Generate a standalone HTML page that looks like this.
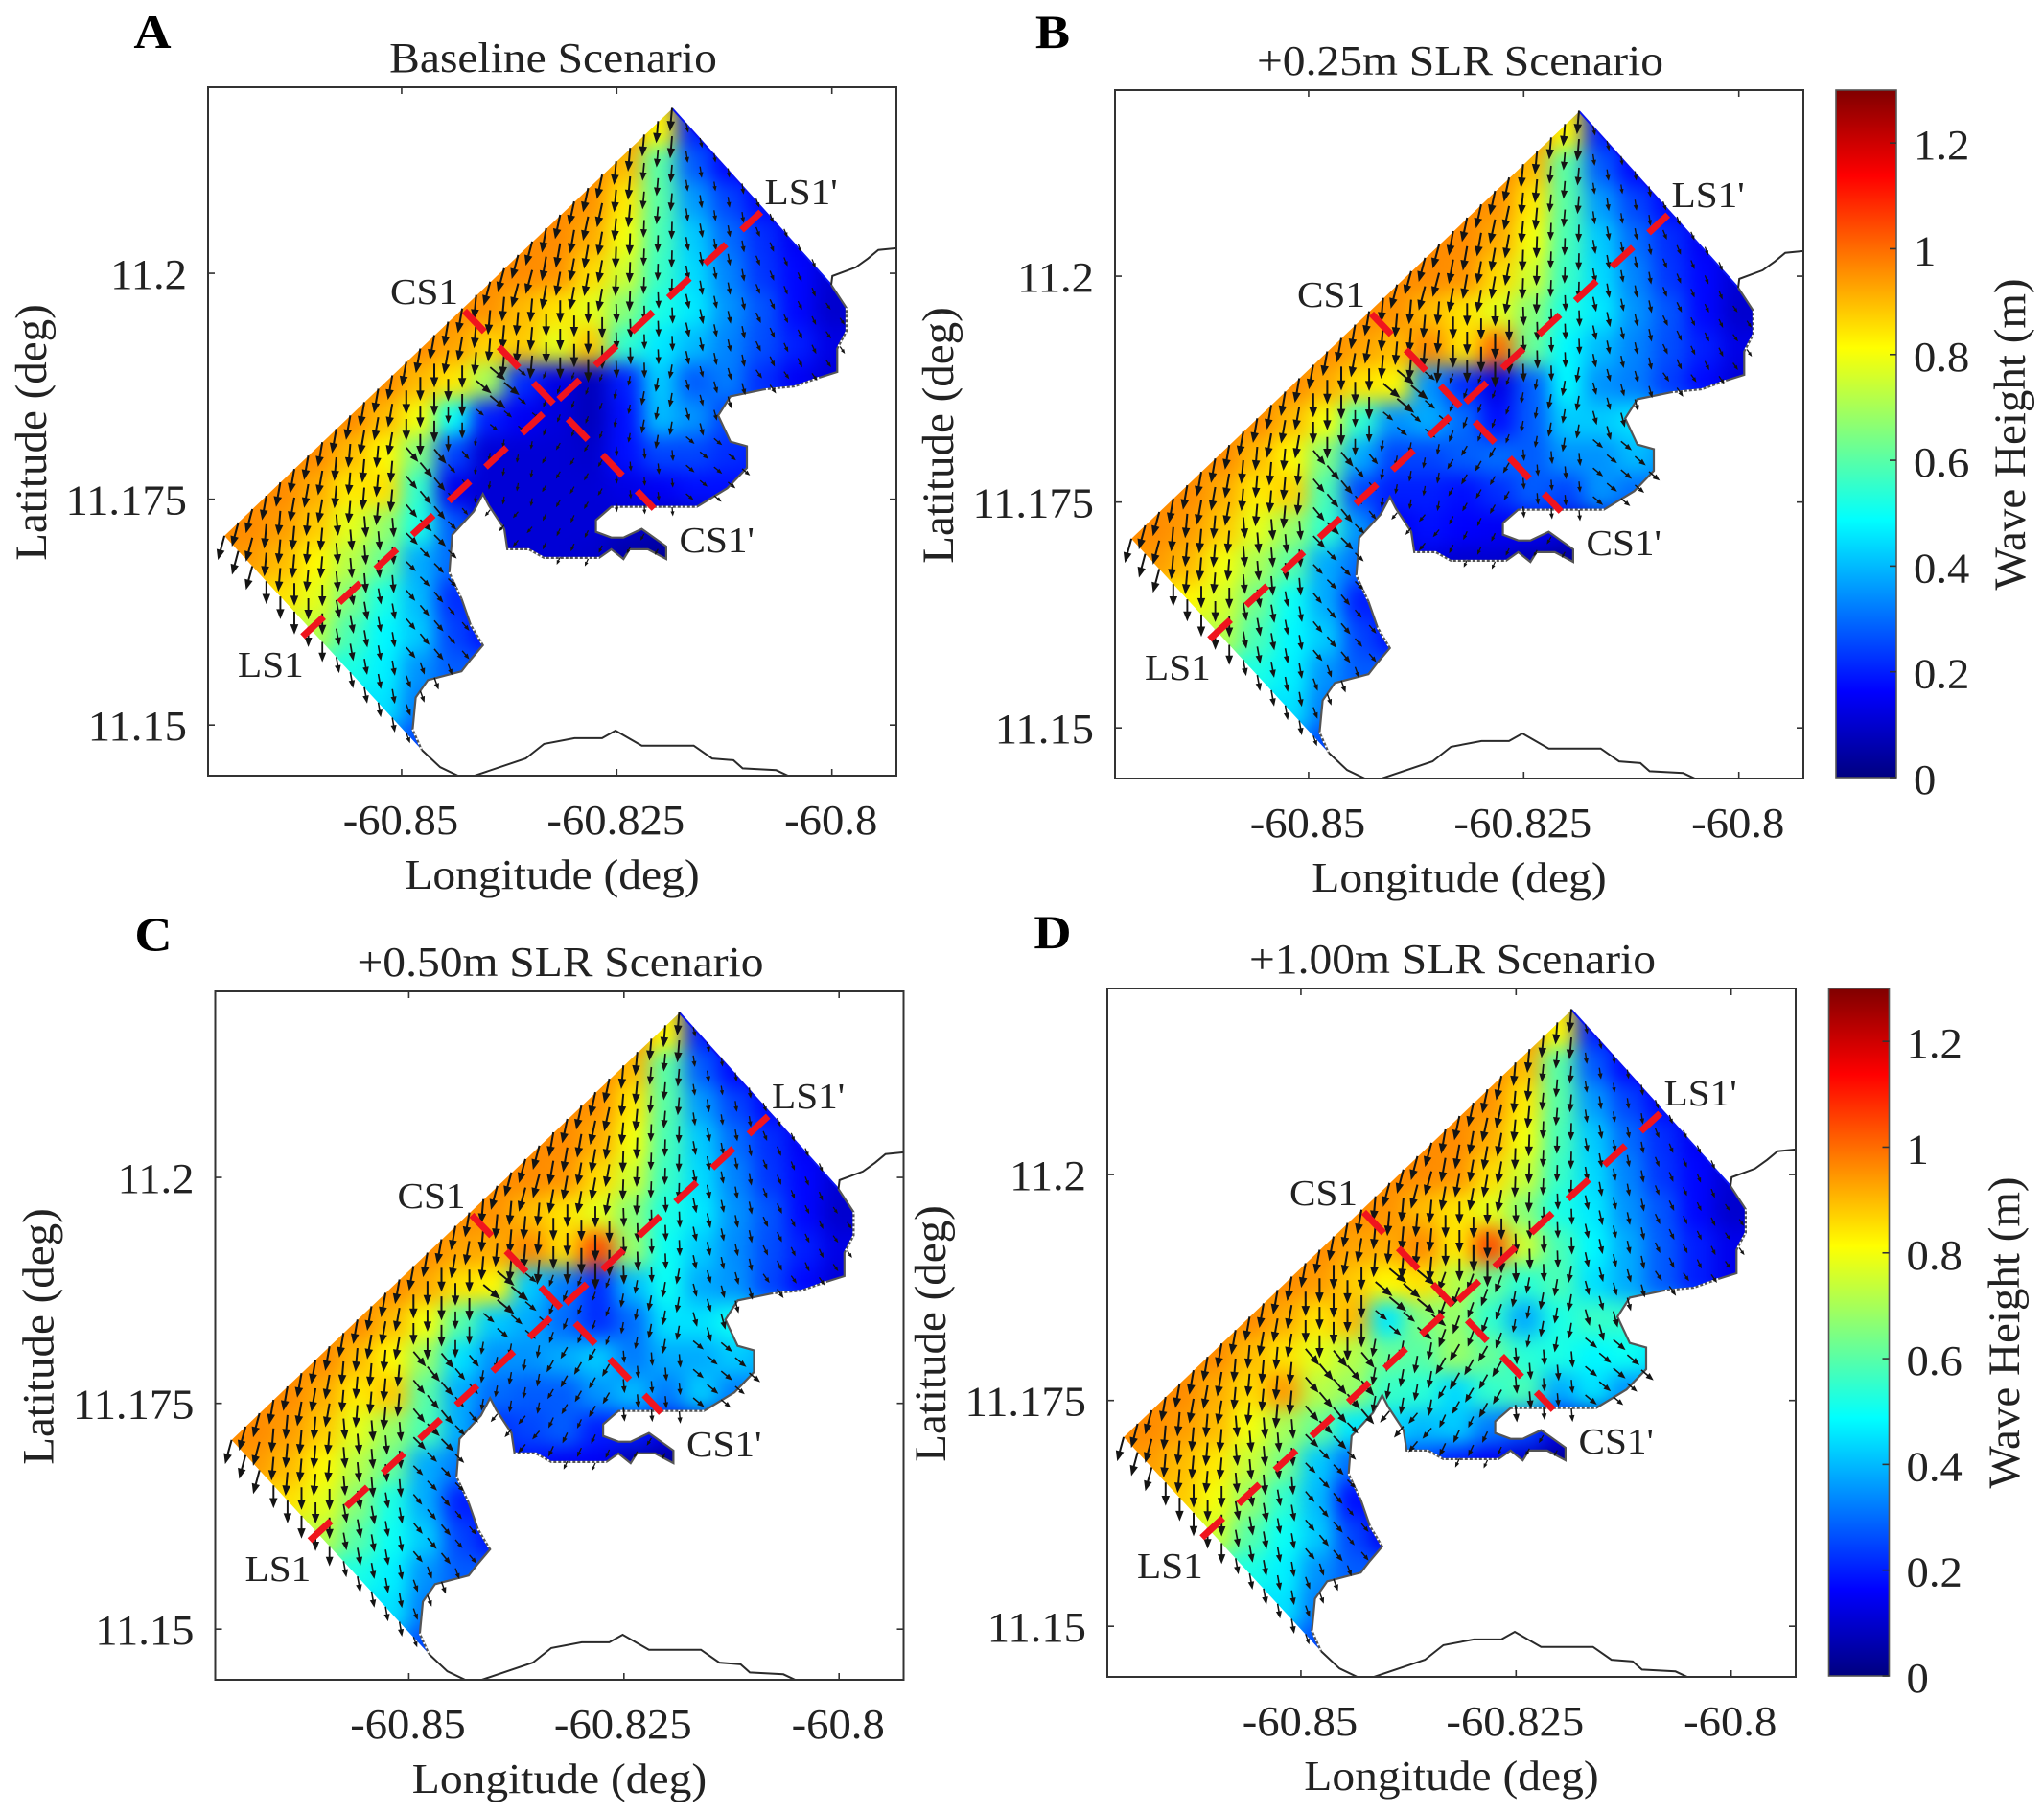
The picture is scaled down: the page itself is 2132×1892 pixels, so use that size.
<!DOCTYPE html>
<html lang="en">
<head>
<meta charset="utf-8">
<title>Wave height under sea level rise scenarios</title>
<style>
html,body{margin:0;padding:0;background:#fff;}
svg{display:block;}
text{font-family:"Liberation Serif",serif;fill:#222;}
.t{font-size:44px;}
.r{font-size:47px;}
.p{font-size:50px;font-weight:bold;fill:#000;}
</style>
</head>
<body>
<svg id="figure" width="2132" height="1892" viewBox="0 0 2132 1892" xmlns="http://www.w3.org/2000/svg">
  <rect width="2132" height="1892" fill="#fff"/>
  <defs>
    <filter id="soft" filterUnits="userSpaceOnUse" x="-80" y="-80" width="880" height="880" color-interpolation-filters="sRGB">
      <feGaussianBlur stdDeviation="10"/>
    </filter>
    <linearGradient id="jetGrad" x1="0" y1="1" x2="0" y2="0">
      <stop offset="0" stop-color="#000080"/>
      <stop offset="0.125" stop-color="#0000ff"/>
      <stop offset="0.375" stop-color="#00ffff"/>
      <stop offset="0.625" stop-color="#ffff00"/>
      <stop offset="0.875" stop-color="#ff0000"/>
      <stop offset="1" stop-color="#800000"/>
    </linearGradient>
    <clipPath id="frameClip"><rect x="0" y="0" width="718" height="718"/></clipPath>
    <clipPath id="domainClip"><polygon id="domainClipPoly" points="0,0"/></clipPath>
  </defs>

  <text class="p" x="0" y="0" transform="translate(159,50) scale(1.085,1)" text-anchor="middle">A</text>
  <text class="p" x="0" y="0" transform="translate(1098,50) scale(1.085,1)" text-anchor="middle">B</text>
  <text class="p" x="0" y="0" transform="translate(160,991) scale(1.085,1)" text-anchor="middle">C</text>
  <text class="p" x="0" y="0" transform="translate(1098,989) scale(1.085,1)" text-anchor="middle">D</text>

  <g id="panel-a" transform="translate(217,91)">
    <text class="t" transform="translate(360,-16) scale(1.08,1)" text-anchor="middle">Baseline Scenario</text>
    <text class="t" transform="translate(359,836) scale(1.08,1)" text-anchor="middle">Longitude (deg)</text>
    <text class="r" transform="translate(-169,360) rotate(-90)" text-anchor="middle">Latitude (deg)</text>
  </g>
  <g id="panel-b" transform="translate(1163,94)">
    <text class="t" transform="translate(360,-16) scale(1.08,1)" text-anchor="middle">+0.25m SLR Scenario</text>
    <text class="t" transform="translate(359,836) scale(1.08,1)" text-anchor="middle">Longitude (deg)</text>
    <text class="r" transform="translate(-169,360) rotate(-90)" text-anchor="middle">Latitude (deg)</text>
  </g>
  <g id="panel-c" transform="translate(224.5,1034)">
    <text class="t" transform="translate(360,-16) scale(1.08,1)" text-anchor="middle">+0.50m SLR Scenario</text>
    <text class="t" transform="translate(359,836) scale(1.08,1)" text-anchor="middle">Longitude (deg)</text>
    <text class="r" transform="translate(-169,360) rotate(-90)" text-anchor="middle">Latitude (deg)</text>
  </g>
  <g id="panel-d" transform="translate(1155,1031)">
    <text class="t" transform="translate(360,-16) scale(1.08,1)" text-anchor="middle">+1.00m SLR Scenario</text>
    <text class="t" transform="translate(359,836) scale(1.08,1)" text-anchor="middle">Longitude (deg)</text>
    <text class="r" transform="translate(-169,360) rotate(-90)" text-anchor="middle">Latitude (deg)</text>
  </g>

  <g id="colorbar-top" transform="translate(1915,94)">
    <text class="r" transform="translate(197,359) rotate(-90)" text-anchor="middle">Wave Height (m)</text>
  </g>
  <g id="colorbar-bottom" transform="translate(1907.5,1031)">
    <text class="r" transform="translate(198.5,359) rotate(-90)" text-anchor="middle">Wave Height (m)</text>
  </g>
</svg>

<script>
/* ---------- axis ticks ---------- */
const xTicks = [-60.85, -60.825, -60.8];
const xTickLabels = ["-60.85", "-60.825", "-60.8"];
const yTicks = [11.15, 11.175, 11.2];
const yTickLabels = ["11.15", "11.175", "11.2"];
const colorTicks = [0, 0.2, 0.4, 0.6, 0.8, 1, 1.2];
const colorTickLabels = ["0", "0.2", "0.4", "0.6", "0.8", "1", "1.2"];

/* ---------- geography (degrees) ---------- */
const domainLon = [-60.81854,-60.80008,-60.7983,-60.7983,-60.79937,-60.79937,-60.8015,-60.80434,-60.80789,-60.81179,-60.81321,-60.81179,-60.80988,-60.80988,-60.81215,-60.8157,-60.82564,-60.82742,-60.82742,-60.82564,-60.82422,-60.82209,-60.81925,-60.81925,-60.82138,-60.82351,-60.82422,-60.82564,-60.82706,-60.83345,-60.83523,-60.83772,-60.83807,-60.83985,-60.84056,-60.84162,-60.84411,-60.84446,-60.84304,-60.84198,-60.84056,-60.84198,-60.84304,-60.84695,-60.84837,-60.84872,-60.84766,-60.8706];
const domainLat = [11.21823,11.19873,11.19616,11.19359,11.19166,11.18908,11.18844,11.18748,11.18715,11.18638,11.18426,11.18136,11.18085,11.17847,11.17622,11.17416,11.17416,11.17268,11.17139,11.17075,11.17075,11.17171,11.16978,11.16837,11.16946,11.16946,11.16837,11.16946,11.1685,11.1685,11.16946,11.16946,11.17171,11.17429,11.17557,11.17364,11.17107,11.16689,11.16399,11.1611,11.15884,11.15724,11.15595,11.15498,11.15305,11.14952,11.14726,11.17094];
const southLandLon = [-60.84766,-60.84553,-60.8434,-60.8425,-60.84162,-60.83559,-60.83345,-60.8299,-60.82671,-60.82515,-60.82209,-60.81605,-60.81392,-60.81144,-60.81037,-60.80647,-60.80505];
const southLandLat = [11.14726,11.14533,11.14437,11.1442,11.14437,11.1463,11.14791,11.14855,11.14855,11.14939,11.14772,11.14772,11.1463,11.14611,11.14521,11.14501,11.14437];
const northLandLon = [-60.80008,-60.79994,-60.79723,-60.79581,-60.79461,-60.79248];
const northLandLat = [11.19873,11.1997,11.20066,11.20163,11.20259,11.20279];
const transectLS1Lon = [-60.86151,-60.80824];
const transectLS1Lat = [11.15981,11.20678];
const transectCS1Lon = [-60.84269,-60.82067];
const transectCS1Lat = [11.19584,11.17396];

/* ---------- wave height samples (cm) on this lon/lat lattice ---------- */
const cellLon = [-60.872,-60.868,-60.864,-60.86,-60.856,-60.852,-60.848,-60.844,-60.84,-60.836,-60.832,-60.828,-60.824,-60.82,-60.816,-60.812,-60.808,-60.804,-60.8,-60.796];
const cellLat = [11.22,11.216,11.212,11.208,11.204,11.2,11.196,11.192,11.188,11.184,11.18,11.176,11.172,11.168,11.164,11.16,11.156,11.152,11.148,11.144];

const offshoreRows = [
[96,96,96,96,96,96,96,96,96,96,96,96,96,90,20,20,20,20,20,20],
[96,96,96,96,96,96,96,96,96,96,96,96,96,82,20,18,18,18,18,18],
[96,96,96,96,96,96,96,96,96,96,96,96,90,60,28,17,16,16,16,16],
[96,96,96,96,96,96,96,96,96,96,96,95,84,60,36,25,17,15,15,15],
[96,96,96,96,96,96,96,96,96,96,96,92,80,58,42,30,22,15,15,15],
[96,96,96,96,96,96,96,96,96,96,95,86,75,56,44,33,23,17,11,11],
[96,96,96,96,96,96,96,96,95,90,85,78,66,52,46,35,27,17,10,10]
];
const southRows = [
[55,55,55,55,52,47,35,28,28,28,28,28,28,28,28,28,28,28,28,28],
[45,45,45,45,45,45,32,28,28,28,28,28,28,28,28,28,28,28,28,28],
[35,35,35,35,35,35,25,25,25,25,25,25,25,25,25,25,25,25,25,25],
[25,25,25,25,25,25,25,25,25,25,25,25,25,25,25,25,25,25,25,25]
];
const baselineRows = [
[96,96,96,96,96,96,96,93,87,88,78,88,55,46,40,33,26,20,13,13],
[96,96,96,96,96,96,90,84,70,22,13,8,20,42,28,32,22,15,11,11],
[96,96,96,96,96,90,80,50,20,15,12,8,18,40,35,25,25,25,25,25],
[96,96,96,96,90,82,65,25,11,11,11,10,18,25,25,22,20,20,20,20],
[96,96,96,92,84,85,55,14,11,11,11,11,13,15,18,18,18,18,18,18],
[96,96,94,88,78,68,52,28,11,11,11,11,9,7,5,5,5,5,5,5],
[94,94,90,82,72,62,38,30,11,11,11,10,5,3,3,3,3,3,3,3],
[85,85,85,78,65,52,40,22,22,8,8,8,8,8,8,8,8,8,8,8],
[72,72,72,72,58,48,42,25,18,18,18,18,18,18,18,18,18,18,18,18]
];
const slr025Rows = [
[96,96,96,96,96,96,96,93,90,96,85,100,62,48,40,33,26,20,13,13],
[96,96,96,96,96,96,92,85,82,35,22,13,28,48,35,32,24,17,11,11],
[96,96,96,96,96,90,80,55,35,38,30,18,28,42,42,45,40,40,40,40],
[96,96,96,96,90,82,65,38,25,25,28,30,28,35,35,40,35,35,35,35],
[96,96,96,92,84,87,58,25,20,20,18,22,28,25,35,30,30,30,30,30],
[96,96,94,88,78,68,55,35,15,18,16,15,15,12,10,10,10,10,10,10],
[94,94,90,80,70,60,38,30,14,12,10,10,6,3,3,3,3,3,3,3],
[82,82,82,76,63,50,38,20,20,10,10,10,10,10,10,10,10,10,10,10],
[72,72,72,72,58,48,42,25,18,18,18,18,18,18,18,18,18,18,18,18]
];
const slr050Rows = [
[96,96,96,96,96,96,96,93,92,96,86,104,68,50,42,34,26,20,13,13],
[96,96,96,96,96,96,92,85,82,42,32,22,40,50,38,35,25,17,11,11],
[96,96,96,96,96,90,80,60,42,38,30,22,30,45,45,50,45,45,45,45],
[96,96,96,96,90,82,68,45,35,35,38,42,32,38,38,42,38,38,38,38],
[96,96,96,92,84,88,60,38,30,28,28,35,40,32,42,32,32,32,32,32],
[96,96,94,88,78,68,58,38,22,25,28,20,20,14,10,10,10,10,10,10],
[94,94,90,82,72,62,38,32,20,18,15,15,6,3,3,3,3,3,3,3],
[85,85,85,78,66,52,38,20,20,10,10,10,10,10,10,10,10,10,10,10],
[72,72,72,72,60,50,42,25,18,18,18,18,18,18,18,18,18,18,18,18]
];
const slr100Rows = [
[96,96,96,96,96,96,96,93,92,96,84,104,75,58,48,38,28,20,14,14],
[96,96,96,96,96,96,94,88,82,85,72,62,54,58,45,38,28,20,14,14],
[96,96,96,96,96,92,85,90,46,65,68,55,38,52,56,55,50,50,50,50],
[96,96,96,96,90,85,78,72,62,60,68,62,54,52,48,50,45,45,45,45],
[96,96,96,92,86,94,72,68,56,54,44,55,58,38,45,35,35,35,35,35],
[96,96,94,90,80,70,62,46,44,40,42,32,26,15,8,8,8,8,8,8],
[94,94,90,84,74,64,42,30,30,25,20,15,10,3,3,3,3,3,3,3],
[88,88,88,80,68,55,40,18,18,10,10,10,10,10,10,10,10,10,10,10],
[75,75,75,75,60,50,42,25,15,15,15,15,15,15,15,15,15,15,15,15]
];

/* ---------- wave direction samples (compass bearing, degrees) ---------- */
const bearingLon = [-60.87,-60.862,-60.854,-60.846,-60.838,-60.83,-60.822,-60.814,-60.806,-60.798];
const bearingLat = [11.218,11.21,11.202,11.194,11.186,11.178,11.17,11.162,11.154,11.146];
const bearingRows = [
[190,190,190,190,190,190,185,168,160,155],
[195,195,195,195,195,192,185,172,160,155],
[195,195,195,195,195,190,182,170,158,150],
[195,195,195,190,185,180,178,168,155,145],
[195,195,190,180,130,200,190,165,145,140],
[190,190,185,140,190,210,175,130,125,125],
[195,185,175,135,220,205,210,210,210,210],
[180,180,170,140,130,130,130,130,130,130],
[175,175,170,160,150,150,150,150,150,150],
[175,175,170,160,150,150,150,150,150,150]
];

/* ---------- axes ---------- */
const SVGNS = "http://www.w3.org/2000/svg";
const lonMin = -60.8725, lonMax = -60.7925, latMax = 11.2206, latMin = 11.1444, axisSize = 718;
function xScale(lon){ return (lon - lonMin) / (lonMax - lonMin) * axisSize; }
function yScale(lat){ return (latMax - lat) / (latMax - latMin) * axisSize; }
function colorY(v){ return axisSize - v / 1.3 * 717; }
function clamp01(v){ return Math.max(0, Math.min(1, v)); }
function jet(metres){
  const t = clamp01(metres / 1.3);
  const r = clamp01(Math.min(4*t - 1.5, -4*t + 4.5));
  const g = clamp01(Math.min(4*t - 0.5, -4*t + 3.5));
  const b = clamp01(Math.min(4*t + 0.5, -4*t + 2.5));
  return "rgb(" + Math.round(r*255) + "," + Math.round(g*255) + "," + Math.round(b*255) + ")";
}
function pointsFrom(lons, lats){
  return lons.map(function(lon, i){ return xScale(lon).toFixed(1) + "," + yScale(lats[i]).toFixed(1); }).join(" ");
}
function nearestIndex(list, v){
  let best = 0;
  for (let i = 1; i < list.length; i++) { if (Math.abs(list[i] - v) < Math.abs(list[best] - v)) best = i; }
  return best;
}
function inDomain(lon, lat){
  let inside = false;
  for (let i = 0, j = domainLon.length - 1; i < domainLon.length; j = i++) {
    const crosses = (domainLat[i] > lat) !== (domainLat[j] > lat);
    if (crosses && lon < (domainLon[j] - domainLon[i]) * (lat - domainLat[i]) / (domainLat[j] - domainLat[i]) + domainLon[i]) inside = !inside;
  }
  return inside;
}
function make(tag, parent){
  const el = document.createElementNS(SVGNS, tag);
  parent.appendChild(el);
  return el;
}
document.getElementById("domainClipPoly").setAttribute("points", pointsFrom(domainLon, domainLat));

/* arrow mesh steps, degrees */
const meshOriginLon = -60.8706, meshOriginLat = 11.17094;
const meshAlongLon = 0.001626, meshAlongLat = 0.001481;
const meshAcrossLon = 0.001626, meshAcrossLat = -0.001677;

/* stretches of shoreline carrying the white dotted mesh edge: first and last domain vertex */
const dottedShoreFrom = [2, 6, 15, 28, 37, 39, 45];
const dottedShoreTo = [4, 8, 16, 31, 38, 40, 46];

function drawPanel(panelId, rows){
  const panel = document.getElementById(panelId);

  /* heat field */
  const clipGroup = make("g", panel);
  clipGroup.setAttribute("clip-path", "url(#domainClip)");
  
  
  const blurGroup = make("g", clipGroup);
  blurGroup.setAttribute("filter", "url(#soft)");
  const cellW = Math.abs(xScale(cellLon[1]) - xScale(cellLon[0]));
  const cellH = Math.abs(yScale(cellLat[1]) - yScale(cellLat[0]));
  rows.forEach(function(row, r){
    row.forEach(function(cm, c){
      const cell = make("rect", blurGroup);
      
      
      cell.setAttribute("x", (xScale(cellLon[c]) - cellW/2 - 0.5).toFixed(1));
      cell.setAttribute("y", (yScale(cellLat[r]) - cellH/2 - 0.5).toFixed(1));
      cell.setAttribute("width", (cellW + 1).toFixed(1));
      cell.setAttribute("height", (cellH + 1).toFixed(1));
      cell.setAttribute("fill", jet(cm / 100));
    });
  });

  /* open north-east boundary */
  const neEdge = make("polyline", panel);
  
  
  neEdge.setAttribute("points", pointsFrom(domainLon.slice(0, 2), domainLat.slice(0, 2)));
  neEdge.setAttribute("fill", "none");
  neEdge.setAttribute("stroke", "#0a14f0");
  neEdge.setAttribute("stroke-width", "2");

  /* shoreline */
  const shore = make("polyline", panel);
  
  
  shore.setAttribute("points", pointsFrom(domainLon.slice(1, 47), domainLat.slice(1, 47)));
  shore.setAttribute("fill", "none");
  shore.setAttribute("stroke", "#555");
  shore.setAttribute("stroke-width", "2.2");

  dottedShoreFrom.forEach(function(from, s){
    const dots = make("polyline", panel);
    
    
    dots.setAttribute("points", pointsFrom(domainLon.slice(from, dottedShoreTo[s] + 1), domainLat.slice(from, dottedShoreTo[s] + 1)));
    dots.setAttribute("fill", "none");
    dots.setAttribute("stroke", "#fff");
    dots.setAttribute("stroke-width", "2");
    dots.setAttribute("stroke-dasharray", "2 3");
  });

  const landGroup = make("g", panel);
  landGroup.setAttribute("clip-path", "url(#frameClip)");
  
  
  const southLand = make("polyline", landGroup);
  
  
  southLand.setAttribute("points", pointsFrom(southLandLon, southLandLat));
  southLand.setAttribute("fill", "none");
  southLand.setAttribute("stroke", "#2a2a2a");
  southLand.setAttribute("stroke-width", "2");
  const northLand = make("polyline", landGroup);
  
  
  northLand.setAttribute("points", pointsFrom(northLandLon, northLandLat));
  northLand.setAttribute("fill", "none");
  northLand.setAttribute("stroke", "#2a2a2a");
  northLand.setAttribute("stroke-width", "2");

  /* wave arrows: tails on the mesh, length from height, heading from bearing table */
  const arrowGroup = make("g", panel);
  
  
  for (let i = 0; i <= 32; i++) {
    for (let j = 0; j <= 15; j++) {
      const lon = meshOriginLon + i*meshAlongLon + j*meshAcrossLon;
      const lat = meshOriginLat + i*meshAlongLat + j*meshAcrossLat;
      const probeLon = lon + (-60.83 - lon) * 0.012;
      const probeLat = lat + (11.19 - lat) * 0.012;
      if (!inDomain(probeLon, probeLat)) continue;
      const cm = rows[nearestIndex(cellLat, lat)][nearestIndex(cellLon, lon)];
      const bearing = bearingRows[nearestIndex(bearingLat, lat)][nearestIndex(bearingLon, lon)];
      const length = 5 + 19 * cm / 100;
      const headLen = Math.min(7, length * 0.35);
      const headHalf = Math.min(2.8, length * 0.14);
      const rad = bearing * Math.PI / 180;
      const ux = Math.sin(rad), uy = -Math.cos(rad);
      const x0 = xScale(lon), y0 = yScale(lat);
      const x1 = x0 + ux*length, y1 = y0 + uy*length;
      const bx = x1 - ux*headLen, by = y1 - uy*headLen;
      const d = "M" + x0.toFixed(1) + " " + y0.toFixed(1) + "L" + bx.toFixed(1) + " " + by.toFixed(1) +
        "M" + (bx - uy*headHalf).toFixed(1) + " " + (by + ux*headHalf).toFixed(1) + "L" + x1.toFixed(1) + " " + y1.toFixed(1) +
        "L" + (bx + uy*headHalf).toFixed(1) + " " + (by - ux*headHalf).toFixed(1) + "Z";
      const arrow = make("path", arrowGroup);
      
      
      arrow.setAttribute("d", d);
      arrow.setAttribute("fill", "#141414");
      arrow.setAttribute("stroke", "#141414");
      arrow.setAttribute("stroke-width", (1.1 + 1.0 * cm / 100).toFixed(2));
    }
  }

  /* transects */
  const ls1 = make("polyline", panel);
  
  
  ls1.setAttribute("points", pointsFrom(transectLS1Lon, transectLS1Lat));
  ls1.setAttribute("stroke", "#f0141e");
  ls1.setAttribute("stroke-width", "7");
  ls1.setAttribute("stroke-dasharray", "30 22");
  const cs1 = make("polyline", panel);
  
  
  cs1.setAttribute("points", pointsFrom(transectCS1Lon, transectCS1Lat));
  cs1.setAttribute("stroke", "#f0141e");
  cs1.setAttribute("stroke-width", "7");
  cs1.setAttribute("stroke-dasharray", "30 22");

  /* transect labels */
  [["LS1",-60.86521,11.15531],["LS1'",-60.80357,11.20765],["CS1",-60.84738,11.19661],["CS1'",-60.81337,11.16911]].forEach(function(item){
    const label = make("text", panel);
    
    
    label.setAttribute("text-anchor", "middle");
    label.setAttribute("font-size", "38");
    label.setAttribute("transform", "translate(" + xScale(item[1]).toFixed(1) + "," + yScale(item[2]).toFixed(1) + ") scale(1.085,1)");
    label.textContent = item[0];
  });

  /* frame */
  const frame = make("rect", panel);
  
  
  frame.setAttribute("width", axisSize);
  frame.setAttribute("height", axisSize);
  frame.setAttribute("fill", "none");
  frame.setAttribute("stroke", "#333");
  frame.setAttribute("stroke-width", "2");

  /* ticks */
  xTicks.forEach(function(v, i){
    const x = xScale(v);
    const tick = make("path", panel);
    
    
    tick.setAttribute("d", "M" + x + " 0v7M" + x + " " + axisSize + "v-7");
    tick.setAttribute("stroke", "#333");
    tick.setAttribute("stroke-width", "1.6");
    const lab = make("text", panel);
    
    
    lab.setAttribute("class", "t");
    lab.setAttribute("text-anchor", "middle");
    lab.setAttribute("transform", "translate(" + (x - 1) + ",779) scale(1.06,1)");
    lab.textContent = xTickLabels[i];
  });
  yTicks.forEach(function(v, i){
    const y = yScale(v);
    const tick = make("path", panel);
    
    
    tick.setAttribute("d", "M0 " + y + "h7M" + axisSize + " " + y + "h-7");
    tick.setAttribute("stroke", "#333");
    tick.setAttribute("stroke-width", "1.6");
    const lab = make("text", panel);
    
    
    lab.setAttribute("class", "t");
    lab.setAttribute("text-anchor", "end");
    lab.setAttribute("transform", "translate(-22," + (y + 16) + ") scale(1.06,1)");
    lab.textContent = yTickLabels[i];
  });
}

function drawColorbar(id){
  const group = document.getElementById(id);
  const bar = make("rect", group);
  
  
  bar.setAttribute("width", "63");
  bar.setAttribute("height", axisSize - 1);
  bar.setAttribute("y", "0");
  bar.setAttribute("fill", "url(#jetGrad)");
  bar.setAttribute("stroke", "#555");
  bar.setAttribute("stroke-width", "1.6");
  colorTicks.forEach(function(v, i){
    const y = colorY(v) - 1;
    const tick = make("path", group);
    
    
    tick.setAttribute("d", "M63 " + y + "h-7");
    tick.setAttribute("stroke", "#333");
    tick.setAttribute("stroke-width", "1.6");
    const lab = make("text", group);
    
    
    lab.setAttribute("class", "t");
    lab.setAttribute("transform", "translate(81," + (y + 17) + ") scale(1.06,1)");
    lab.textContent = colorTickLabels[i];
  });
}

drawPanel("panel-a", offshoreRows.concat(baselineRows, southRows));
drawPanel("panel-b", offshoreRows.concat(slr025Rows, southRows));
drawPanel("panel-c", offshoreRows.concat(slr050Rows, southRows));
drawPanel("panel-d", offshoreRows.concat(slr100Rows, southRows));
drawColorbar("colorbar-top");
drawColorbar("colorbar-bottom");
</script>
</body>
</html>
